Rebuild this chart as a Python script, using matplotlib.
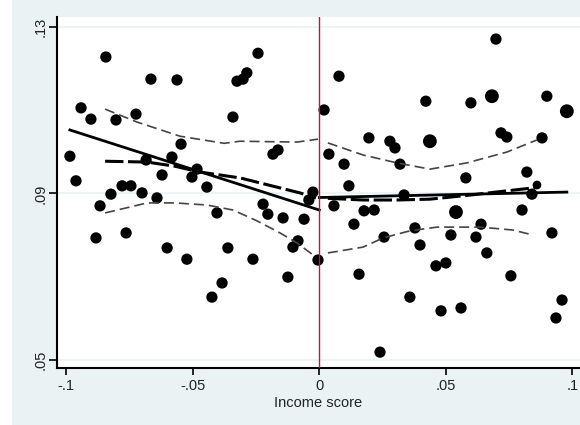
import numpy as np
import matplotlib
matplotlib.use("Agg")
import matplotlib.pyplot as plt
from matplotlib.patches import Rectangle

plt.rcParams['font.family'] = ['Liberation Sans', 'DejaVu Sans']

# scatter points (income score, outcome)
x_left = [-0.0985, -0.0961, -0.0941, -0.0902, -0.0843, -0.0803, -0.0724, -0.0665,
          -0.0562, -0.0546, -0.0582, -0.0684, -0.0621, -0.0483, -0.0503, -0.0444,
          -0.0823, -0.0779, -0.0744, -0.0700, -0.0641, -0.0866, -0.0882, -0.0763,
          -0.0601, -0.0523, -0.0404, -0.0361, -0.0384, -0.0424, -0.0341, -0.0325,
          -0.0301, -0.0286, -0.0242, -0.0183, -0.0163, -0.0262, -0.0222, -0.0203,
          -0.0143, -0.0060, -0.0084, -0.0104, -0.0124, -0.0025, -0.0041, -0.0005]
y_left = [0.0989, 0.0930, 0.1105, 0.1078, 0.1227, 0.1076, 0.1090, 0.1174,
          0.1172, 0.1018, 0.0987, 0.0980, 0.0944, 0.0958, 0.0939, 0.0915,
          0.0898, 0.0918, 0.0918, 0.0901, 0.0889, 0.0870, 0.0793, 0.0805,
          0.0769, 0.0742, 0.0853, 0.0769, 0.0685, 0.0651, 0.1083, 0.1169,
          0.1174, 0.1189, 0.1236, 0.0994, 0.1004, 0.0742, 0.0874, 0.0850,
          0.0841, 0.0838, 0.0786, 0.0771, 0.0699, 0.0903, 0.0884, 0.0740]
x_right = [0.0019, 0.0078, 0.0038, 0.0098, 0.0117, 0.0058, 0.0177, 0.0217,
           0.0137, 0.0157, 0.0256, 0.0196, 0.0279, 0.0299, 0.0319, 0.0335,
           0.0240, 0.0358, 0.0378, 0.0398, 0.0461, 0.0500, 0.0520, 0.0540,
           0.0639, 0.0619, 0.0662, 0.0757, 0.0801, 0.0840, 0.0860, 0.0820,
           0.0579, 0.0481, 0.0560, 0.0919, 0.0959, 0.0935, 0.0698, 0.0421,
           0.0599, 0.0682, 0.0899, 0.0978, 0.0437, 0.0718, 0.0741, 0.0880]
y_right = [0.1100, 0.1181, 0.0994, 0.0970, 0.0918, 0.0870, 0.0858, 0.0860,
           0.0826, 0.0706, 0.0795, 0.1033, 0.1025, 0.1009, 0.0970, 0.0896,
           0.0519, 0.0651, 0.0817, 0.0776, 0.0726, 0.0733, 0.0800, 0.0855,
           0.0826, 0.0795, 0.0757, 0.0702, 0.0860, 0.0898, 0.0920, 0.0951,
           0.0937, 0.0618, 0.0625, 0.0805, 0.0644, 0.0601, 0.1270, 0.1121,
           0.1117, 0.1133, 0.1133, 0.1097, 0.1025, 0.1045, 0.1035, 0.1033]
# relative marker weights (a few bigger dots on the right)
w_right = [1.0] * 48
for i in (23, 41, 43, 44):
    w_right[i] = 1.5
w_right[30] = 0.6

# linear fits on each side
fit_left_x = [-0.0985, 0.0]
fit_left_y = [0.1052, 0.0860]
fit_right_x = [0.0, 0.0978]
fit_right_y = [0.0890, 0.0903]

# local polynomial + CI
lp_left_x = [-0.0846, -0.0680, -0.0570, -0.0471, -0.0313, -0.0155, -0.0076, -0.0013]
lp_left_y = [0.0977, 0.0975, 0.0965, 0.0951, 0.0937, 0.0913, 0.0901, 0.0889]
lp_right_x = [0.0034, 0.0173, 0.0307, 0.0437, 0.0583, 0.0741, 0.0860]
lp_right_y = [0.0888, 0.0884, 0.0884, 0.0886, 0.0895, 0.0906, 0.0914]

ciu_left_x = [-0.0846, -0.0720, -0.0550, -0.0376, -0.0313, -0.0088, -0.0005]
ciu_left_y = [0.1102, 0.1071, 0.1037, 0.1020, 0.1025, 0.1023, 0.1030]
cil_left_x = [-0.0846, -0.0680, -0.0570, -0.0444, -0.0341, -0.0246, -0.0155, -0.0088, -0.0013]
cil_left_y = [0.0853, 0.0877, 0.0877, 0.0872, 0.0860, 0.0834, 0.0805, 0.0781, 0.0747]
ciu_right_x = [0.0034, 0.0173, 0.0307, 0.0437, 0.0583, 0.0741, 0.0860]
ciu_right_y = [0.1021, 0.0992, 0.0973, 0.0958, 0.0973, 0.0999, 0.1028]
cil_right_x = [0.0034, 0.0173, 0.0252, 0.0358, 0.0465, 0.0635, 0.0765, 0.0844]
cil_right_y = [0.0757, 0.0771, 0.0793, 0.0810, 0.0819, 0.0819, 0.0812, 0.0800]

xticks = [-0.1, -0.05, 0, 0.05, 0.1]
xtick_labels = ['-.1', '-.05', '0', '.05', '.1']
yticks = [0.05, 0.09, 0.13]
ytick_labels = ['.05', '.09', '.13']

bg = '#eaf2f3'
fig = plt.figure(figsize=(5.8, 4.25), dpi=100, facecolor='white')
fig.add_artist(Rectangle((12 / 580, 0), 1, 1, transform=fig.transFigure,
                         facecolor=bg, edgecolor='none', zorder=-10))
ax = fig.add_axes([57 / 580, 57 / 425, 1 - 57 / 580, 351 / 425])
ax.set_zorder(1)
ax.set_facecolor('white')

ax.set_xlim(-0.1036, 0.1030)
ax.set_ylim(0.0481, 0.1323)

for yv in yticks:
    ax.axhline(yv, color=bg, lw=1.2, zorder=0)

ax.scatter(x_left, y_left, s=66, color='black', edgecolors='none', zorder=3)
ax.scatter(x_right, y_right, s=[66 * w for w in w_right], color='black',
           edgecolors='none', zorder=3)

ax.plot(fit_left_x, fit_left_y, color='black', lw=2.0, zorder=4)
ax.plot(fit_right_x, fit_right_y, color='black', lw=2.0, zorder=4)

for xs, ys in [(lp_left_x, lp_left_y), (lp_right_x, lp_right_y)]:
    ax.plot(xs, ys, color='black', lw=2.2, ls=(0, (6, 1.5)), zorder=4)
for xs, ys in [(ciu_left_x, ciu_left_y), (cil_left_x, cil_left_y),
               (ciu_right_x, ciu_right_y), (cil_right_x, cil_right_y)]:
    ax.plot(xs, ys, color='#444444', lw=1.2, ls=(0, (6, 3)), zorder=4)

ax.axvline(0, color='#c0143c', lw=1.0, zorder=5)

for side in ['top', 'right']:
    ax.spines[side].set_visible(False)
for side in ['left', 'bottom']:
    ax.spines[side].set_linewidth(1.5)
    ax.spines[side].set_color('black')

ax.set_xticks(xticks)
ax.set_xticklabels(xtick_labels)
ax.set_yticks(yticks)
ax.set_yticklabels(ytick_labels, rotation=90, va='center')
ax.tick_params(axis='x', length=5, width=1.2, labelsize=10.5, pad=3,
               labelcolor='#222222')
ax.tick_params(axis='y', length=6, width=1.2, labelsize=10.5, pad=1,
               labelcolor='#222222')
ax.set_xlabel('Income score', fontsize=10.5, labelpad=2, color='#222222')

fig.savefig('out.png', dpi=100, facecolor=fig.get_facecolor())
